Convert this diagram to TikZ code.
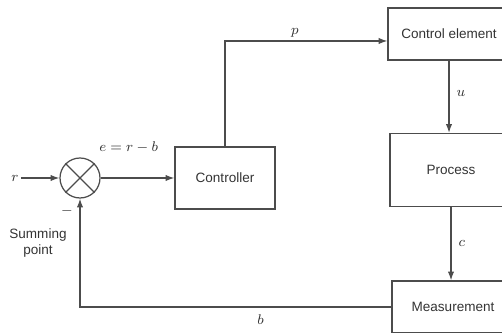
\documentclass[tikz,border=0pt]{standalone}
\usepackage{fontspec}
\setmainfont{Liberation Sans}
\usetikzlibrary{arrows.meta,positioning}

\begin{document}
\begin{tikzpicture}[
    x=0.02cm, y=-0.02cm,
    >={Latex[length=5pt,width=3.6pt]},
    line width=0.7pt,
    color=black!70,
    every node/.style={font=\fontsize{7.7}{9.5}\selectfont, text=black!80},
    block/.style={
        draw,
        rectangle,
        minimum width=2.44cm,
        align=center
    },
    junction/.style={
        draw,
        circle,
        minimum size=0.8cm,
        inner sep=0pt
    },
    flow/.style={->},
    lab/.style={
        font=\footnotesize,
        inner sep=1pt
    }
]
\useasboundingbox (0,0) rectangle (502,333);
\clip (0,0) rectangle (502,333);

%------------------------------------------------
% Nodes
%------------------------------------------------
\node[lab] (r) at (15,178) {$r$};
\node[junction] (sum) at (80,178) {};
\draw (sum.45) -- (sum.225) (sum.135) -- (sum.315);

\node[block, minimum width=2cm, minimum height=1.24cm] (ctrl) at (225,178) {Controller};
\node[block, minimum height=1.04cm] (ce)   at (449,34)  {Control element};
\node[block, minimum height=1.46cm] (proc) at (451,170) {Process};
\node[block, minimum height=1.04cm] (meas) at (453,307) {Measurement};

\node[lab] (minus) at (67,211) {$-$};
\node[align=center] (sp) at (38,243) {Summing\\point};

%------------------------------------------------
% Arrows and labels
%------------------------------------------------
\draw[flow] (r.east |- sum.west) -- (sum.west);

\draw[flow] (sum.east) --
    node[pos=0.38, above=13pt, lab] {$e = r - b$}
    (ctrl.west);

\draw[flow] (ctrl.north) |-
    node[pos=0.715, above=1pt, lab] {$p$}
    ([yshift=-0.14cm]ce.west);

\draw[flow] (ce.south) --
    node[pos=0.45, right=3pt, lab] {$u$}
    (ce.south |- proc.north);

\draw[flow] (proc.south) --
    node[pos=0.5, right=3pt, lab] {$c$}
    (proc.south |- meas.north);

\draw[flow] (meas.west) -|
    node[pos=0.21, below=3pt, lab] {$b$}
    (sum.south);

\end{tikzpicture}
\end{document}
